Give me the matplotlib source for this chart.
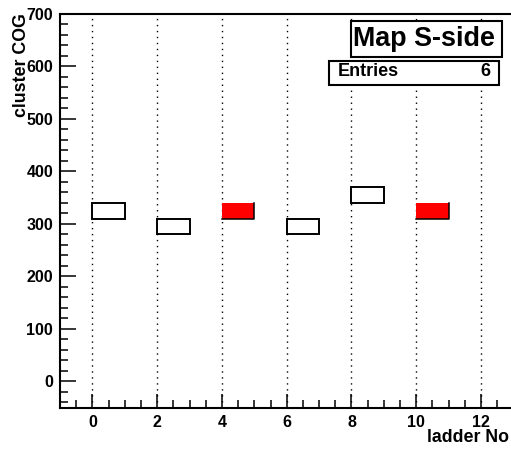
import matplotlib
matplotlib.use("Agg")
import matplotlib.pyplot as plt
from matplotlib.patches import Rectangle
from matplotlib.ticker import MultipleLocator

plt.rcParams['font.family'] = ['Liberation Sans', 'DejaVu Sans']
plt.rcParams['font.weight'] = 'bold'

# ladder number (bin low edge), cluster COG bin low edge, fill flag
ladders = [0, 2, 4, 6, 8, 10]
cog_low = [310, 280, 310, 280, 340, 310]
highlighted = [False, False, True, False, False, True]
cog_bin = 30
ladder_bin = 1
entries = 6
title = "Map S-side"
xlabel = "ladder No"
ylabel = "cluster COG"

W, H = 511, 449
fig = plt.figure(figsize=(W / 100, H / 100), dpi=100)
ax = fig.add_axes([60 / W, 1 - 407.7 / H, 453.4 / W, (407.7 - 14) / H])
ax.set_xlim(-1, 13)
ax.set_ylim(-50, 700)

for x, y, hi in zip(ladders, cog_low, highlighted):
    if hi:
        ax.add_patch(Rectangle((x, y), ladder_bin, cog_bin, facecolor='#ff0000',
                               edgecolor='none', zorder=3))
        ax.plot([x, x + ladder_bin, x + ladder_bin], [y, y, y + cog_bin],
                color='black', lw=1.1, zorder=4)
    else:
        ax.add_patch(Rectangle((x, y), ladder_bin, cog_bin, facecolor='white',
                               edgecolor='black', lw=1.4, zorder=3))

ax.xaxis.set_major_locator(MultipleLocator(2))
ax.xaxis.set_minor_locator(MultipleLocator(0.5))
ax.yaxis.set_major_locator(MultipleLocator(100))
ax.yaxis.set_minor_locator(MultipleLocator(20))
ax.tick_params(which='both', direction='in', width=1.1, labelsize=11.5,
               top=False, right=False)
ax.tick_params(axis='x', which='major', length=10, pad=5)
ax.tick_params(axis='x', which='minor', length=5.5)
ax.tick_params(axis='y', which='major', length=11.5, pad=5)
ax.tick_params(axis='y', which='minor', length=5.8)
for lbl in ax.get_xticklabels() + ax.get_yticklabels():
    lbl.set_fontweight('bold')

ax.grid(axis='x', which='major', color='black', lw=1.0, linestyle=(0, (1, 3.3)))
for side in ['left', 'bottom', 'top']:
    ax.spines[side].set_linewidth(1.5)
ax.spines['right'].set_visible(False)

fig.text(509 / W, 1 - 437 / H, xlabel, ha='right', va='center', fontsize=12.8,
         fontweight='bold')
fig.text(21.5 / W, 1 - 13 / H, ylabel, ha='center', va='top', rotation=90,
         fontsize=12.8, fontweight='bold')

# title box
fig.patches.append(Rectangle((351 / W, 1 - 57.3 / H), 151.3 / W, 36.3 / H,
                             transform=fig.transFigure, facecolor='white',
                             edgecolor='black', lw=1.5, zorder=5))
fig.text(424 / W, 1 - 39.5 / H, title, ha='center', va='center', fontsize=19.4,
         fontweight='bold', zorder=6)

# statistics box
fig.patches.append(Rectangle((329.3 / W, 1 - 85.3 / H), 169.7 / W, 24 / H,
                             transform=fig.transFigure, facecolor='white',
                             edgecolor='black', lw=1.5, zorder=5))
fig.text(337.5 / W, 1 - 71 / H, "Entries", ha='left', va='center', fontsize=13,
         fontweight='bold', zorder=6)
fig.text(490 / W, 1 - 71 / H, str(entries), ha='right', va='center', fontsize=13,
         fontweight='bold', zorder=6)

fig.savefig("out.png", dpi=100)
